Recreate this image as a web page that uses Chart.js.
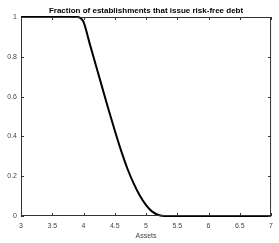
<!DOCTYPE html>
<html><head><meta charset="utf-8">
<script src="https://cdn.jsdelivr.net/npm/chart.js@4/dist/chart.umd.min.js"></script>
<style>html,body{margin:0;padding:0;background:#fff}#c{display:block}</style>
</head><body>
<div style="width:279px;height:243px"><canvas id="c" width="279" height="243"></canvas></div>
<script>
const titleText = "Fraction of establishments that issue risk-free debt";
const xLabel = "Assets";
const assets = [3.0, 3.5, 3.9, 3.95, 4.0, 4.1, 4.2, 4.3, 4.4, 4.5, 4.6, 4.7, 4.8, 4.9, 5.0, 5.1, 5.2, 5.3, 5.5, 6.0, 6.5, 7.0];
const fraction = [1, 1, 1, 0.995, 0.975, 0.865, 0.755, 0.645, 0.535, 0.43, 0.33, 0.24, 0.165, 0.103, 0.055, 0.022, 0.005, 0, 0, 0, 0, 0];
const xTicks = [3, 3.5, 4, 4.5, 5, 5.5, 6, 6.5, 7];
const yTicks = [0, 0.2, 0.4, 0.6, 0.8, 1];

const boxPlugin = {
  id: 'box',
  afterDraw(chart) {
    const {ctx, chartArea: a, scales: {x, y}} = chart;
    ctx.save();
    ctx.lineWidth = 1;
    ctx.strokeStyle = '#333';
    ctx.beginPath();
    ctx.moveTo(a.left + 0.5, a.top + 0.5); ctx.lineTo(a.right - 0.5, a.top + 0.5);
    ctx.lineTo(a.right - 0.5, a.bottom - 0.5); ctx.lineTo(a.left + 0.5, a.bottom - 0.5);
    ctx.closePath(); ctx.stroke();
    ctx.beginPath();
    xTicks.forEach(v => {
      const px = Math.round(x.getPixelForValue(v)) + 0.5;
      ctx.moveTo(px, a.bottom); ctx.lineTo(px, a.bottom - 3);
      ctx.moveTo(px, a.top); ctx.lineTo(px, a.top + 3);
    });
    yTicks.forEach(v => {
      const py = Math.round(y.getPixelForValue(v)) + 0.5;
      ctx.moveTo(a.left, py); ctx.lineTo(a.left + 3, py);
      ctx.moveTo(a.right, py); ctx.lineTo(a.right - 3, py);
    });
    ctx.stroke();
    ctx.fillStyle = '#000';
    ctx.font = 'bold 8px "Liberation Sans", Arial, sans-serif';
    ctx.textAlign = 'center';
    ctx.textBaseline = 'middle';
    ctx.fillText(titleText, (a.left + a.right) / 2, 11);
    ctx.restore();
  }
};

new Chart(document.getElementById('c'), {
  type: 'line',
  data: {
    datasets: [{
      data: assets.map((v, i) => ({x: v, y: fraction[i]})),
      borderColor: '#000',
      borderWidth: 2,
      pointRadius: 0,
      cubicInterpolationMode: 'monotone',
      fill: false,
      clip: false
    }]
  },
  options: {
    responsive: false,
    animation: false,
    layout: {padding: {top: 17, right: 2, left: 0, bottom: 0}},
    plugins: {legend: {display: false}, title: {display: false}, tooltip: {enabled: false}},
    scales: {
      x: {
        type: 'linear', min: 3, max: 7,
        afterBuildTicks: s => { s.ticks = xTicks.map(v => ({value: v})); },
        afterFit: s => { s.height = 27; },
        grid: {display: false, drawTicks: false},
        border: {display: false},
        ticks: {padding: 6, color: '#444', font: {size: 7, family: '"Liberation Sans", Arial, sans-serif'}, maxRotation: 0, autoSkip: false,
          callback: v => String(v)},
        title: {display: true, text: xLabel, color: '#444', padding: {top: 0, bottom: 3}, font: {size: 7, family: '"Liberation Sans", Arial, sans-serif'}}
      },
      y: {
        type: 'linear', min: 0, max: 1,
        afterBuildTicks: s => { s.ticks = yTicks.map(v => ({value: v})); },
        afterFit: s => { s.width = 21; },
        grid: {display: false, drawTicks: false},
        border: {display: false},
        ticks: {padding: 4, color: '#444', font: {size: 7, family: '"Liberation Sans", Arial, sans-serif'}, autoSkip: false,
          callback: v => String(v)}
      }
    }
  },
  plugins: [boxPlugin]
});
</script>
</body></html>
